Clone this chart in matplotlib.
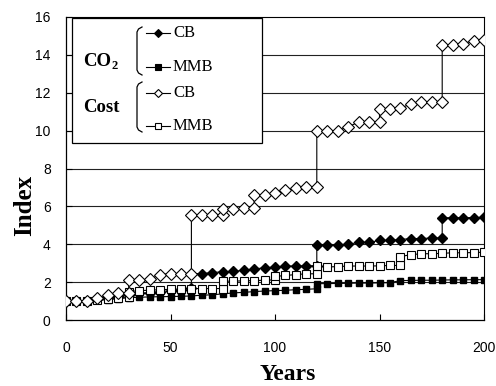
import matplotlib
matplotlib.use("Agg")
import matplotlib.pyplot as plt
from matplotlib.lines import Line2D
from matplotlib.patches import Rectangle

# ---- data ----
cost_cb_x = [0, 5, 10, 15, 20, 25, 30, 30, 35, 40, 45, 50, 55, 60, 60, 65, 70, 75, 75, 80, 85, 90, 90,
             95, 100, 105, 110, 115, 120, 120, 125, 130, 135, 140, 145, 150, 150, 155, 160, 165, 170,
             175, 180, 180, 185, 190, 195, 200]
cost_cb_y = [1.0, 1.0, 1.0, 1.15, 1.3, 1.4, 1.45, 2.1, 2.1, 2.15, 2.4, 2.45, 2.45, 2.45, 5.55, 5.55, 5.55,
             5.55, 5.85, 5.85, 5.9, 5.9, 6.6, 6.6, 6.7, 6.85, 6.95, 7.0, 7.0, 10.0, 10.0, 10.0, 10.2, 10.45,
             10.45, 10.45, 11.15, 11.15, 11.2, 11.4, 11.5, 11.5, 11.5, 14.5, 14.5, 14.6, 14.75, 14.8]

cost_mmb_x = [0, 5, 10, 15, 20, 25, 30, 30, 35, 40, 45, 50, 55, 60, 65, 70, 75, 75, 80, 85, 90, 95, 100,
              100, 105, 110, 115, 120, 120, 125, 130, 135, 140, 145, 150, 155, 160, 160, 165, 170, 175,
              180, 185, 190, 195, 200]
cost_mmb_y = [1.0, 1.0, 1.0, 1.05, 1.12, 1.17, 1.22, 1.5, 1.55, 1.57, 1.6, 1.62, 1.64, 1.66, 1.66, 1.66,
              1.66, 2.05, 2.05, 2.07, 2.08, 2.1, 2.12, 2.3, 2.35, 2.4, 2.44, 2.44, 2.85, 2.8, 2.82, 2.85,
              2.85, 2.85, 2.86, 2.88, 2.88, 3.35, 3.45, 3.5, 3.5, 3.52, 3.55, 3.55, 3.56, 3.58]

co2_cb_x = [0, 5, 10, 15, 20, 25, 30, 35, 40, 45, 50, 55, 60, 60, 65, 70, 75, 80, 85, 90, 95, 100, 105,
            110, 115, 120, 120, 125, 130, 135, 140, 145, 150, 155, 160, 165, 170, 175, 180, 180, 185,
            190, 195, 200]
co2_cb_y = [1.0, 1.0, 1.0, 1.1, 1.2, 1.28, 1.33, 1.4, 1.45, 1.5, 1.55, 1.6, 1.68, 2.45, 2.45, 2.5, 2.55,
            2.57, 2.62, 2.7, 2.75, 2.8, 2.85, 2.85, 2.86, 2.87, 3.95, 3.95, 3.95, 4.0, 4.1, 4.1, 4.2, 4.2,
            4.25, 4.3, 4.3, 4.33, 4.33, 5.4, 5.4, 5.4, 5.41, 5.42]

co2_mmb_x = [0, 5, 10, 15, 20, 25, 30, 35, 40, 45, 50, 55, 60, 65, 70, 75, 80, 85, 90, 95, 100, 105,
             110, 115, 120, 120, 125, 130, 135, 140, 145, 150, 155, 160, 165, 170, 175, 180, 185, 190,
             195, 200]
co2_mmb_y = [1.0, 1.0, 1.0, 1.03, 1.08, 1.12, 1.18, 1.2, 1.22, 1.23, 1.24, 1.25, 1.27, 1.31, 1.33, 1.38,
             1.43, 1.46, 1.5, 1.53, 1.55, 1.57, 1.6, 1.62, 1.65, 1.92, 1.92, 1.93, 1.94, 1.95, 1.95, 1.96,
             1.97, 2.08, 2.09, 2.1, 2.1, 2.11, 2.12, 2.12, 2.13, 2.13]

x_ticks = [0, 50, 100, 150, 200]
y_ticks = [0, 2, 4, 6, 8, 10, 12, 14, 16]

W, H = 496, 386
fig = plt.figure(figsize=(W / 100, H / 100), dpi=100)
fig.patch.set_facecolor("white")
ax = fig.add_axes([66 / W, 1 - 320 / H, 418 / W, 303 / H])

ax.set_xlim(0, 200)
ax.set_ylim(0, 16)

for g in y_ticks[1:-1]:
    ax.axhline(g, color="#222222", lw=0.8, zorder=1)

lw = 0.8
ax.plot(co2_mmb_x, co2_mmb_y, color="black", lw=lw, marker="s", ms=5.0,
        mfc="black", mec="black", zorder=3)
ax.plot(co2_cb_x, co2_cb_y, color="black", lw=lw, marker="D", ms=4.8,
        mfc="black", mec="black", zorder=3)
ax.plot(cost_mmb_x, cost_mmb_y, color="black", lw=lw, marker="s", ms=5.6,
        mfc="white", mec="black", mew=0.8, zorder=4)
ax.plot(cost_cb_x, cost_cb_y, color="black", lw=lw, marker="D", ms=5.8,
        mfc="white", mec="black", mew=0.8, zorder=5)

ax.set_xticks(x_ticks)
ax.set_yticks(y_ticks)
ax.tick_params(axis="x", direction="in", length=4, width=0.8, pad=15, labelsize=10)
ax.tick_params(axis="y", direction="in", length=4, width=0.8, pad=11, labelsize=10)
for lab in ax.get_xticklabels() + ax.get_yticklabels():
    lab.set_fontfamily("Liberation Sans")

for s in ["left", "bottom"]:
    ax.spines[s].set_linewidth(0.9)
for s in ["top", "right"]:
    ax.spines[s].set_linestyle((0, (1, 1)))
    ax.spines[s].set_linewidth(0.8)

fig.text(25 / W, 1 - 205 / H, "Index", rotation=90, ha="center", va="center",
         fontsize=18, fontweight="bold", family="Liberation Serif")
fig.text(288 / W, 1 - 375 / H, "Years", ha="center", va="center",
         fontsize=17, fontweight="bold", family="Liberation Serif")

# ---- legend drawn by hand ----
def fx(px):
    return px / W

def fy(py):
    return 1 - py / H

tr = fig.transFigure
fig.add_artist(Rectangle((fx(72), fy(143)), fx(262) - fx(72), fy(18) - fy(143),
                         transform=tr, facecolor="white", edgecolor="black", lw=0.9, zorder=10))

fig.text(fx(83), fy(61), "CO", ha="left", va="center", fontsize=13.5,
         fontweight="bold", family="Liberation Serif", zorder=11)
fig.text(fx(112), fy(66), "2", ha="left", va="center", fontsize=9,
         fontweight="bold", family="Liberation Serif", zorder=11)
fig.text(fx(83), fy(107), "Cost", ha="left", va="center", fontsize=13.5,
         fontweight="bold", family="Liberation Serif", zorder=11)

def bracket(top, bot, x=137):
    xs = [x + 5, x + 1.5, x, x, x + 1.5, x + 5]
    ys = [top, top + 2, top + 5, bot - 5, bot - 2, bot]
    fig.add_artist(Line2D([fx(v) for v in xs], [fy(v) for v in ys], transform=tr,
                          color="black", lw=0.9, zorder=11))

bracket(27, 75)
bracket(82, 132)

entries = [
    (33, "CB", "D", "black", 4.0),
    (67, "MMB", "s", "black", 4.8),
    (93, "CB", "D", "white", 4.2),
    (126, "MMB", "s", "white", 4.6),
]
for py, lab, mk, fc, ms in entries:
    fig.add_artist(Line2D([fx(146), fx(158), fx(170)], [fy(py)] * 3, transform=tr,
                          color="black", lw=0.8, marker=mk, markevery=[1], ms=ms,
                          mfc=fc, mec="black", mew=0.8, zorder=11))
    fig.text(fx(173), fy(py), lab, ha="left", va="center", fontsize=12,
             family="Liberation Serif", zorder=11)

fig.savefig("out.png", dpi=100)
